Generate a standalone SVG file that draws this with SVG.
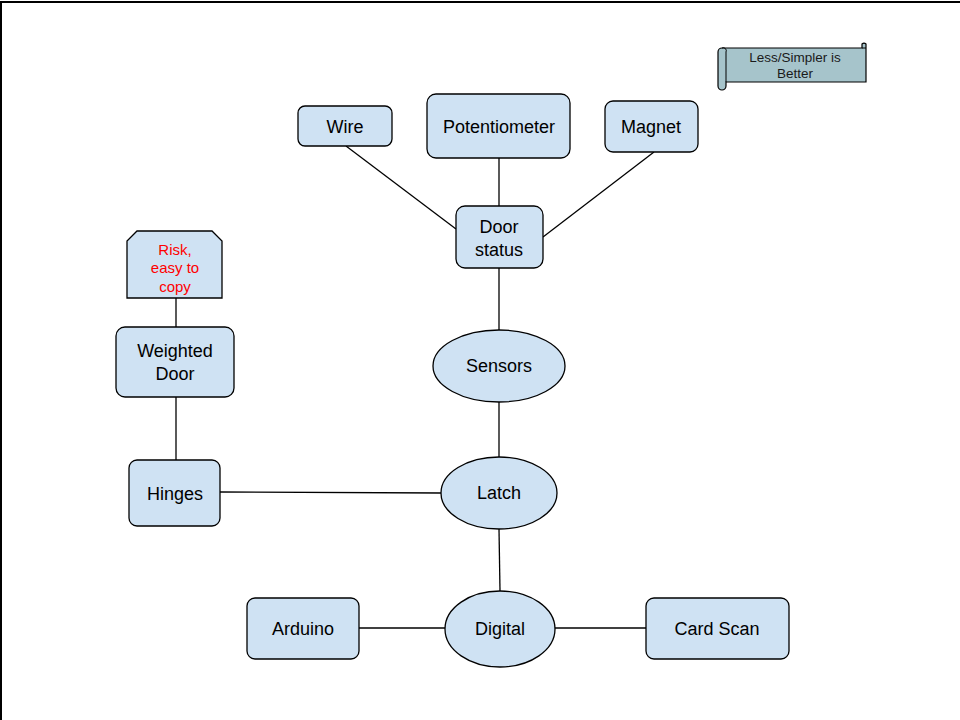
<svg xmlns="http://www.w3.org/2000/svg" width="960" height="720" viewBox="0 0 960 720">
<defs>
<style>
.n{fill:#cfe2f3;stroke:#000;stroke-width:1.3}
.t{font-family:"Liberation Sans",Arial,sans-serif;font-size:18px;fill:#000;text-anchor:middle}
.c{stroke:#000;stroke-width:1.3;fill:none}
</style>
</defs>
<rect width="960" height="720" fill="#fff"/>
<path d="M1,720 L1,2 L960,2" fill="none" stroke="#000" stroke-width="2"/>
<g id="connectors">
<line class="c" x1="346" y1="146" x2="456" y2="229"/>
<line class="c" x1="499" y1="158" x2="499" y2="206"/>
<line class="c" x1="654" y1="152" x2="543" y2="237"/>
<line class="c" x1="499" y1="268" x2="499" y2="330"/>
<line class="c" x1="499" y1="402" x2="499" y2="457"/>
<line class="c" x1="499" y1="529" x2="500" y2="591"/>
<line class="c" x1="220" y1="492" x2="441" y2="493"/>
<line class="c" x1="176" y1="397" x2="176" y2="460"/>
<line class="c" x1="176" y1="298" x2="176" y2="327"/>
<line class="c" x1="359" y1="628" x2="445" y2="628"/>
<line class="c" x1="555" y1="628" x2="646" y2="628"/>
</g>
<g id="banner">
<path d="M722,48 L862,48 L862,44 A3,3 0 0 1 866,44 L866,82 L726,82 L726,86 A4,4 0 0 1 718,86 L718,52 A4,4 0 0 1 722,48 Z" fill="#a6c4cb" stroke="#000" stroke-width="1.2"/>
<path d="M722,48 A3,3 0 0 1 726,52 L726,82" fill="none" stroke="#000" stroke-width="1"/>
<path d="M862,48 L866,48" fill="none" stroke="#000" stroke-width="1"/>
<text x="795" y="62" font-family="'Liberation Sans',Arial,sans-serif" font-size="13.5" text-anchor="middle" fill="#1a1a1a">Less/Simpler is</text>
<text x="795" y="78" font-family="'Liberation Sans',Arial,sans-serif" font-size="13.5" text-anchor="middle" fill="#1a1a1a">Better</text>
</g>
<g id="wire"><rect class="n" x="298" y="106" width="94" height="40" rx="7"/><text class="t" x="345" y="133">Wire</text></g>
<g id="potentiometer"><rect class="n" x="427" y="94" width="143" height="64" rx="9"/><text class="t" x="499" y="133">Potentiometer</text></g>
<g id="magnet"><rect class="n" x="605" y="101" width="93" height="51" rx="8"/><text class="t" x="651" y="133">Magnet</text></g>
<g id="door-status"><rect class="n" x="456" y="206" width="87" height="62" rx="9"/><text class="t" x="499" y="233">Door</text><text class="t" x="499" y="256">status</text></g>
<g id="sensors"><ellipse class="n" cx="499" cy="366" rx="66" ry="36"/><text class="t" x="499" y="372">Sensors</text></g>
<g id="latch"><ellipse class="n" cx="499" cy="493" rx="58" ry="36"/><text class="t" x="499" y="499">Latch</text></g>
<g id="digital"><ellipse class="n" cx="500" cy="629" rx="55" ry="38"/><text class="t" x="500" y="635">Digital</text></g>
<g id="arduino"><rect class="n" x="247" y="598" width="112" height="61" rx="8"/><text class="t" x="303" y="635">Arduino</text></g>
<g id="card-scan"><rect class="n" x="646" y="598" width="143" height="61" rx="8"/><text class="t" x="717" y="635">Card Scan</text></g>
<g id="hinges"><rect class="n" x="129" y="460" width="91" height="66" rx="8"/><text class="t" x="175" y="500">Hinges</text></g>
<g id="weighted-door"><rect class="n" x="116" y="327" width="118" height="70" rx="9"/><text class="t" x="175" y="357">Weighted</text><text class="t" x="175" y="380">Door</text></g>
<g id="risk"><path class="n" d="M137,231 L212,231 L222,241 L222,298 L127,298 L127,241 Z"/>
<text x="175" y="255" font-family="'Liberation Sans',Arial,sans-serif" font-size="15" text-anchor="middle" fill="#ff0000">Risk,</text>
<text x="175" y="273" font-family="'Liberation Sans',Arial,sans-serif" font-size="15" text-anchor="middle" fill="#ff0000">easy to</text>
<text x="175" y="292" font-family="'Liberation Sans',Arial,sans-serif" font-size="15" text-anchor="middle" fill="#ff0000">copy</text></g>
</svg>
